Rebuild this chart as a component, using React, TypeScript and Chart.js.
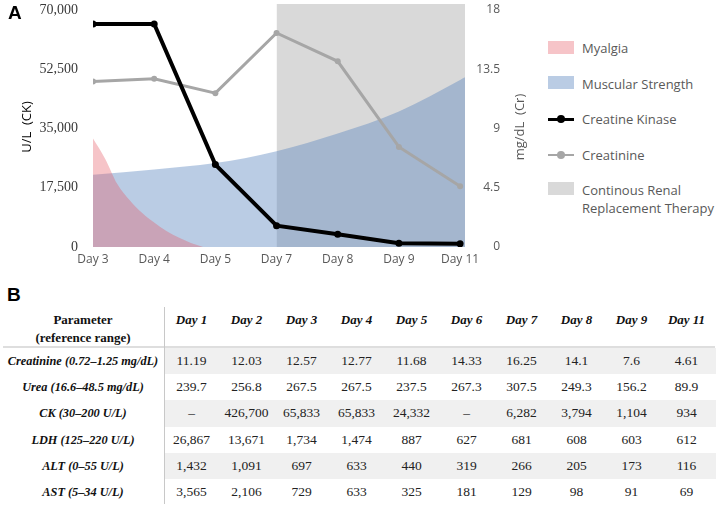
import React, { useEffect, useRef } from "react";
import { Chart, registerables } from "chart.js";
Chart.register(...registerables);

// ---------- Panel A data ----------
const dayLabels = ["Day 3", "Day 4", "Day 5", "Day 7", "Day 8", "Day 9", "Day 11"];
const ckValues = [65833, 65833, 24332, 6282, 3794, 1104, 934];
const creatinineValues = [12.57, 12.77, 11.68, 16.25, 14.1, 7.6, 4.61];
const myalgiaX = [0, 0.2, 0.4, 0.6, 0.8, 1.0, 1.2, 1.4, 1.6, 1.8];
const myalgiaY = [32000, 26000, 18500, 13800, 10100, 7200, 4700, 2800, 1200, 0];
const strengthX = [0, 1, 2, 3, 4, 5, 6, 6.08];
const strengthY = [21300, 22900, 24800, 28300, 33500, 40000, 49300, 50100];
const crrtX = [3, 6.08];
const crrtY = [71750, 71750];
const ckTicks = [0, 17500, 35000, 52500, 70000];
const crTicks = [0, 4.5, 9, 13.5, 18];
const leftTitle = "U/L  (CK)";
const rightTitle = "mg/dL  (Cr)";

// ---------- Panel B data ----------
const tableDays = ["Day 1", "Day 2", "Day 3", "Day 4", "Day 5", "Day 6", "Day 7", "Day 8", "Day 9", "Day 11"];
const tableParams = [
  "Creatinine (0.72–1.25 mg/dL)",
  "Urea (16.6–48.5 mg/dL)",
  "CK (30–200 U/L)",
  "LDH (125–220 U/L)",
  "ALT (0–55 U/L)",
  "AST (5–34 U/L)",
];
const creatinineRow = ["11.19", "12.03", "12.57", "12.77", "11.68", "14.33", "16.25", "14.1", "7.6", "4.61"];
const ureaRow = ["239.7", "256.8", "267.5", "267.5", "237.5", "267.3", "307.5", "249.3", "156.2", "89.9"];
const ckRow = ["–", "426,700", "65,833", "65,833", "24,332", "–", "6,282", "3,794", "1,104", "934"];
const ldhRow = ["26,867", "13,671", "1,734", "1,474", "887", "627", "681", "608", "603", "612"];
const altRow = ["1,432", "1,091", "697", "633", "440", "319", "266", "205", "173", "116"];
const astRow = ["3,565", "2,106", "729", "633", "325", "181", "129", "98", "91", "69"];
const tableRows = [creatinineRow, ureaRow, ckRow, ldhRow, altRow, astRow];

const PINK = "rgba(229,86,98,0.35)";
const BLUE = "rgba(91,134,191,0.42)";
const GRAY = "rgb(217,217,217)";
const CR_GRAY = "#a6a6a6";
const SANS = "'Open Sans', 'Noto Sans', sans-serif";
const SERIF = "'Liberation Serif', 'Times New Roman', 'DejaVu Serif', serif";

const axisTitles = {
  id: "axisTitles",
  afterDraw(chart: any) {
    const ctx = chart.ctx;
    const cy = 127;
    ctx.save();
    ctx.font = `13px ${SANS}`;
    ctx.textAlign = "center";
    ctx.textBaseline = "middle";
    ctx.fillStyle = "#000";
    ctx.translate(27, cy);
    ctx.rotate(-Math.PI / 2);
    ctx.fillText(leftTitle, 0, 0);
    ctx.restore();
    ctx.save();
    ctx.font = `13px ${SANS}`;
    ctx.textAlign = "center";
    ctx.textBaseline = "middle";
    ctx.fillStyle = "#595959";
    ctx.translate(520, cy);
    ctx.rotate(-Math.PI / 2);
    ctx.fillText(rightTitle, 0, 0);
    ctx.restore();
  },
};

function ChartA() {
  const ref = useRef<HTMLCanvasElement>(null);
  useEffect(() => {
    const zeroPad = (s: any) => {
      s.paddingTop = 0;
      s.paddingBottom = 0;
      s.paddingLeft = 0;
      s.paddingRight = 0;
    };
    const chart = new Chart(ref.current!, {
      type: "line",
      data: {
        datasets: [
          {
            label: "Creatine Kinase",
            data: dayLabels.map((_, i) => ({ x: i, y: ckValues[i] })),
            yAxisID: "y",
            borderColor: "#000",
            backgroundColor: "#000",
            borderWidth: 4,
            pointRadius: 3.5,
            pointBorderWidth: 0,
            pointBackgroundColor: "#000",
            tension: 0,
            fill: false,
          },
          {
            label: "Creatinine",
            data: dayLabels.map((_, i) => ({ x: i, y: creatinineValues[i] })),
            yAxisID: "y1",
            borderColor: CR_GRAY,
            backgroundColor: CR_GRAY,
            borderWidth: 3,
            pointRadius: 3,
            pointBorderWidth: 0,
            pointBackgroundColor: CR_GRAY,
            tension: 0,
            fill: false,
          },
          {
            label: "Myalgia",
            data: myalgiaX.map((x, i) => ({ x, y: myalgiaY[i] })),
            yAxisID: "y",
            borderWidth: 0,
            borderColor: "rgba(0,0,0,0)",
            backgroundColor: PINK,
            pointRadius: 0,
            tension: 0.4,
            cubicInterpolationMode: "monotone",
            fill: "origin",
          },
          {
            label: "Muscular Strength",
            data: strengthX.map((x, i) => ({ x, y: strengthY[i] })),
            yAxisID: "y",
            borderWidth: 0,
            borderColor: "rgba(0,0,0,0)",
            backgroundColor: BLUE,
            pointRadius: 0,
            tension: 0.4,
            cubicInterpolationMode: "monotone",
            fill: "origin",
          },
          {
            label: "Continous Renal Replacement Therapy",
            data: crrtX.map((x, i) => ({ x, y: crrtY[i] })),
            yAxisID: "y",
            borderWidth: 0,
            borderColor: "rgba(0,0,0,0)",
            backgroundColor: GRAY,
            pointRadius: 0,
            tension: 0,
            fill: "origin",
          },
        ],
      },
      options: {
        responsive: false,
        animation: false,
        layout: { padding: { left: 15, right: 35, top: 1, bottom: 0 } },
        plugins: { legend: { display: false }, tooltip: { enabled: false } },
        scales: {
          x: {
            type: "linear",
            min: 0,
            max: 6.08,
            grid: { display: false, drawTicks: false },
            border: { display: false },
            afterBuildTicks: (s: any) => {
              s.ticks = dayLabels.map((_, i) => ({ value: i }));
            },
            afterFit: (s: any) => {
              s.height = 21;
              zeroPad(s);
            },
            ticks: {
              autoSkip: false,
              maxRotation: 0,
              padding: 5,
              color: "#595959",
              font: { family: SANS, size: 12 },
              callback: (v: any) => dayLabels[Math.round(v)] ?? "",
            },
          },
          y: {
            type: "linear",
            position: "left",
            min: 0,
            max: 71750,
            grid: { display: false, drawTicks: false },
            border: { display: false },
            afterBuildTicks: (s: any) => {
              s.ticks = ckTicks.map((v) => ({ value: v }));
            },
            afterFit: (s: any) => {
              s.width = 78;
              zeroPad(s);
            },
            ticks: {
              padding: 15,
              color: "#3a3a3a",
              font: { family: SERIF, size: 14 },
              callback: (v: any) => Number(v).toLocaleString("en-US"),
            },
            title: { display: false },
          },
          y1: {
            type: "linear",
            position: "right",
            min: 0,
            max: 18.45,
            grid: { display: false, drawTicks: false },
            border: { display: false },
            afterBuildTicks: (s: any) => {
              s.ticks = crTicks.map((v) => ({ value: v }));
            },
            afterFit: (s: any) => {
              s.width = 35;
              zeroPad(s);
            },
            ticks: {
              padding: 13,
              crossAlign: "far",
              color: "#595959",
              font: { family: SANS, size: 12 },
              callback: (v: any) => String(v),
            },
            title: { display: false },
          },
        },
      },
      plugins: [axisTitles],
    } as any);
    return () => chart.destroy();
  }, []);
  return (
    <canvas
      ref={ref}
      width={535}
      height={268}
      style={{ position: "absolute", left: 0, top: 0, width: 535, height: 268 }}
    />
  );
}

function Legend() {
  const textStyle: React.CSSProperties = {
    position: "absolute",
    left: 582,
    fontFamily: SANS,
    fontSize: 13,
    color: "#595959",
    lineHeight: "18px",
    whiteSpace: "nowrap",
  };
  const box = (top: number, color: string) => (
    <div style={{ position: "absolute", left: 548, top, width: 26, height: 13, background: color }} />
  );
  const lineItem = (y: number, color: string, w: number) => (
    <>
      <div style={{ position: "absolute", left: 548, top: y - w / 2, width: 26, height: w, background: color }} />
      <div
        style={{ position: "absolute", left: 557, top: y - 4, width: 8, height: 8, borderRadius: 4, background: color }}
      />
    </>
  );
  return (
    <>
      {box(41, PINK)}
      <div style={{ ...textStyle, top: 39 }}>Myalgia</div>
      {box(76, BLUE)}
      <div style={{ ...textStyle, top: 75 }}>Muscular Strength</div>
      {lineItem(119, "#000", 3)}
      <div style={{ ...textStyle, top: 110 }}>Creatine Kinase</div>
      {lineItem(155, CR_GRAY, 2.5)}
      <div style={{ ...textStyle, top: 146 }}>Creatinine</div>
      {box(182, GRAY)}
      <div style={{ ...textStyle, top: 181 }}>
        Continous Renal
        <br />
        Replacement Therapy
      </div>
    </>
  );
}

function TableB() {
  const colLeft = 164;
  const colW = 55;
  const rowTop = 348;
  const rowH = 26.2;
  const labelW = 166;
  return (
    <>
      <div
        style={{
          position: "absolute",
          left: 0,
          width: labelW,
          top: 311,
          textAlign: "center",
          fontFamily: SERIF,
          fontWeight: "bold",
          fontSize: 13,
          lineHeight: "18px",
          color: "#111",
        }}
      >
        Parameter
        <br />
        (reference range)
      </div>
      {tableDays.map((d, i) => (
        <div
          key={d}
          style={{
            position: "absolute",
            left: colLeft + i * colW,
            width: colW,
            top: 311,
            textAlign: "center",
            fontFamily: SERIF,
            fontWeight: "bold",
            fontStyle: "italic",
            fontSize: 13,
            lineHeight: "18px",
            color: "#111",
          }}
        >
          {d}
        </div>
      ))}
      {tableRows.map((_, r) =>
        r % 2 === 0 ? (
          <div
            key={"s" + r}
            style={{
              position: "absolute",
              left: colLeft + 1,
              width: 716 - colLeft - 1,
              top: rowTop + r * rowH,
              height: rowH,
              background: "#f0f0f0",
            }}
          />
        ) : null
      )}
      <div style={{ position: "absolute", left: 3, width: 712, top: 346, height: 2, background: "#dedede" }} />
      <div style={{ position: "absolute", left: 164, width: 1, top: 307, height: 197, background: "#c8c8c8" }} />
      {tableRows.map((row, r) => (
        <React.Fragment key={"r" + r}>
          <div
            style={{
              position: "absolute",
              left: 0,
              width: labelW,
              top: rowTop + r * rowH,
              height: rowH,
              lineHeight: rowH + "px",
              textAlign: "center",
              fontFamily: SERIF,
              fontWeight: "bold",
              fontStyle: "italic",
              fontSize: 12.3,
              color: "#111",
              whiteSpace: "nowrap",
            }}
          >
            {tableParams[r]}
          </div>
          {row.map((v, c) => (
            <div
              key={c}
              style={{
                position: "absolute",
                left: colLeft + c * colW,
                width: colW,
                top: rowTop + r * rowH,
                height: rowH,
                lineHeight: rowH + "px",
                textAlign: "center",
                fontFamily: SERIF,
                fontSize: 13.5,
                color: "#222",
                whiteSpace: "nowrap",
              }}
            >
              {v}
            </div>
          ))}
        </React.Fragment>
      ))}
    </>
  );
}

export default function App() {
  return (
    <div
      style={{
        position: "absolute",
        left: 0,
        top: 0,
        width: 717,
        height: 506,
        background: "#fff",
        overflow: "hidden",
      }}
    >
      <ChartA />
      <Legend />
      <div
        style={{
          position: "absolute",
          left: 8,
          top: 2,
          fontFamily: "'Liberation Sans', Arial, sans-serif",
          fontWeight: "bold",
          fontSize: 19,
        }}
      >
        A
      </div>
      <div
        style={{
          position: "absolute",
          left: 7,
          top: 284,
          fontFamily: "'Liberation Sans', Arial, sans-serif",
          fontWeight: "bold",
          fontSize: 19,
        }}
      >
        B
      </div>
      <TableB />
    </div>
  );
}
